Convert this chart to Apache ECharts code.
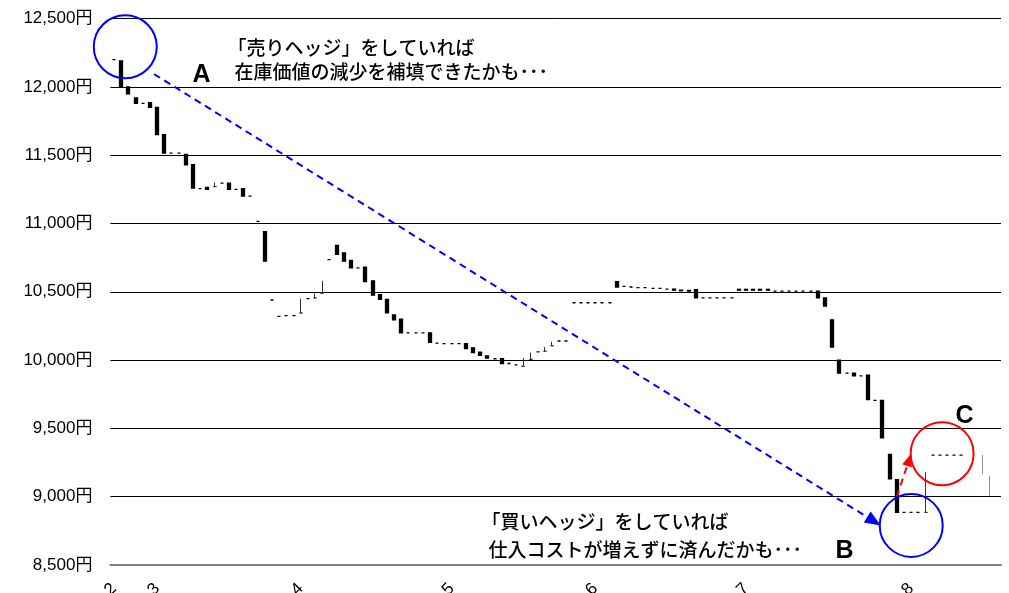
<!DOCTYPE html>
<html>
<head>
<meta charset="utf-8">
<script src="https://cdn.jsdelivr.net/npm/echarts@6/dist/echarts.min.js"></script>
<style>
html,body{margin:0;padding:0;background:#fff;}
#chart{width:1009px;height:593px;}
</style>
</head>
<body>
<div id="chart"></div>
<script>
// ---- data ----
const opens = [
12200,12190,12000,11920,11880,11885,11850,11650,11515,11515,
11505,11430,11255,11265,11270,11295,11295,11250,11255,11200,
11015,10940,10440,10320,10325,10325,10345,10450,10455,10490,
10735,10840,10785,10730,10675,10680,10580,10480,10445,10330,
10300,10200,10200,10200,10200,10125,10120,10120,10120,10120,
10090,10058,10030,10010,10010,9975,9965,9955,10005,10060,
10065,10105,10140,10140,10420,10420,10420,10420,10420,10420,
10575,10540,10535,10530,10530,10525,10525,10520,10520,10512,
10510,10515,10455,10455,10455,10455,10455,10518,10518,10518,
10518,10518,10505,10505,10505,10505,10505,10505,10505,10455,
10295,10000,9905,9905,9885,9890,9705,9705,9310,9125,
8885,8885,8885,8885,9305,9305,9305,9305,9305,null,
null,9305,9155,null
];
const closes = [
12200,12000,11950,11880,11880,11850,11650,11515,11515,11515,
11430,11260,11255,11250,11300,11295,11250,11250,11200,11200,
11015,10725,10440,10320,10325,10325,10450,10450,10490,10580,
10735,10775,10725,10675,10675,10575,10475,10445,10345,10295,
10200,10200,10200,10200,10130,10125,10120,10120,10120,10085,
10055,10035,10015,10010,9975,9975,9965,10015,10055,10060,
10095,10135,10140,10140,10420,10420,10420,10420,10420,10420,
10535,10540,10535,10530,10530,10525,10525,10520,10512,10508,
10505,10455,10455,10455,10455,10455,10455,10512,10512,10512,
10512,10512,10505,10505,10505,10505,10505,10505,10455,10395,
10095,9905,9905,9885,9885,9710,9705,9430,9130,8885,
8885,8885,8885,9180,9305,9305,9305,9305,9305,null,
null,9165,9005,null
];
// days drawn only as a thin line
const thinDays = [121, 122];
// month tick labels and the day index they sit on
const monthLabels = ['2','3','4','5','6','7','8'];
const monthStartIdx = [0, 6, 26, 47, 67, 88, 111];
// y axis
const yMin = 8500, yMax = 12500, yStep = 500;

// annotations in data space: [dayIndex, price]
const circles = [
  {pos:[1.57, 12294], color:'#0000ff'},
  {pos:[111.0, 8790], color:'#0000ff'},
  {pos:[115.3, 9315], color:'#ff0000'}
];
const arrows = [
  {from:[5.57, 12094], to:[105.82, 8820], color:'#0000ff', head:[13,16]},
  {from:[108.98, 9000], to:[110.71, 9271], color:'#ff0000', head:[10,13]}
];
const notes = [
  {pos:[15.73, 12288], text:'「売りヘッジ」をしていれば', big:false},
  {pos:[16.71, 12109], text:'在庫価値の減少を補填できたかも･･･', big:false},
  {pos:[10.86, 12083], text:'A', big:true},
  {pos:[51.1, 8815], text:'「買いヘッジ」をしていれば', big:false},
  {pos:[52.07, 8610], text:'仕入コストが増えずに済んだかも･･･', big:false},
  {pos:[100.39, 8603], text:'B', big:true},
  {pos:[117.1, 9591], text:'C', big:true}
];

// ---- build ----
const nDays = opens.length;
const categories = opens.map((_, i) => 'd' + i);
const monthAt = {};
monthStartIdx.forEach((d, k) => { monthAt[d] = monthLabels[k]; });

const mainData = [], thinData = [];
for (let i = 0; i < nDays; i++) {
  const o = opens[i], c = closes[i];
  if (o == null) { mainData.push('-'); thinData.push('-'); continue; }
  if (thinDays.indexOf(i) >= 0) {
    mainData.push('-');
    thinData.push([o, c, Math.min(o, c), Math.max(o, c)]);
    continue;
  }
  thinData.push('-');
  if (c > o) {
    mainData.push({value:[o, o, o, c], itemStyle:{borderColor:'#333', borderColorDoji:'#333', color:'#333', borderWidth:1}});
  } else {
    mainData.push([o, c, Math.min(o, c), Math.max(o, c)]);
  }
}

const jp = "'Noto Sans CJK JP', sans-serif";
const lat = "'Liberation Sans', 'Noto Sans CJK JP', sans-serif";

const chart = echarts.init(document.getElementById('chart'), null, {renderer:'canvas'});
chart.setOption({
  animation: false,
  backgroundColor: '#fff',
  textStyle: {fontFamily: lat},
  grid: {left: 110.4, right: 8, top: 18.6, bottom: 28, containLabel: false, outerBoundsMode: 'none'},
  xAxis: [{
    type: 'category',
    data: categories,
    boundaryGap: true,
    axisLine: {show: true, lineStyle: {color: '#7f7f7f', width: 2}},
    axisTick: {show: false},
    splitLine: {show: false},
    axisLabel: {
      interval: (idx) => monthAt[idx] !== undefined,
      formatter: (v, idx) => monthAt[idx] || '',
      rotate: 45,
      margin: 21,
      color: '#000',
      fontSize: 17,
      fontFamily: lat
    }
  }, {
    type: 'value',
    min: -0.5, max: nDays - 0.5,
    show: false
  }],
  yAxis: {
    type: 'value',
    min: yMin, max: yMax, interval: yStep,
    axisLine: {show: false},
    axisTick: {show: false},
    splitLine: {show: true, showMinLine: false, lineStyle: {color: '#000', width: 1}},
    axisLabel: {
      formatter: (v) => v.toLocaleString('en-US') + '円',
      color: '#000',
      fontSize: 17,
      margin: 18,
      fontFamily: lat
    }
  },
  series: [
    {
      type: 'candlestick',
      name: 'price',
      data: mainData,
      barWidth: 3.5,
      itemStyle: {
        color: '#000', color0: '#000',
        borderColor: '#000', borderColor0: '#000', borderColorDoji: '#000',
        borderWidth: 1.3
      },
      emphasis: {disabled: true}
    },
    {
      type: 'candlestick',
      name: 'thin',
      data: thinData,
      barWidth: 1,
      itemStyle: {
        color: '#444', color0: '#444',
        borderColor: '#444', borderColor0: '#444', borderColorDoji: '#444',
        borderWidth: 0.6
      },
      emphasis: {disabled: true}
    },
    {
      type: 'scatter',
      name: 'circles',
      xAxisIndex: 1, yAxisIndex: 0,
      silent: true,
      z: 5,
      symbol: 'circle',
      symbolSize: 63,
      itemStyle: {opacity: 1},
      data: circles.map(c => ({
        value: c.pos,
        itemStyle: {color: 'rgba(0,0,0,0)', borderColor: c.color, borderWidth: 2, opacity: 1}
      })),
      markLine: {
        silent: true,
        animation: false,
        label: {show: false},
        data: arrows.map(a => [
          {coord: a.from, symbol: 'none', lineStyle: {color: a.color, width: 2, type: [7, 5], opacity: 1}},
          {coord: a.to, symbol: 'triangle', symbolSize: a.head, itemStyle: {color: a.color, opacity: 1}}
        ])
      }
    },
    {
      type: 'scatter',
      name: 'notes',
      xAxisIndex: 1, yAxisIndex: 0,
      silent: true,
      z: 6,
      symbolSize: 1,
      itemStyle: {color: 'rgba(0,0,0,0)', opacity: 1},
      data: notes.map(n => ({
        value: n.pos,
        label: {
          show: true,
          position: 'right',
          distance: 0,
          formatter: n.text,
          color: '#000',
          fontSize: n.big ? 25 : 19,
          fontWeight: n.big ? 'bold' : 500,
          fontFamily: n.big ? lat : jp
        }
      }))
    }
  ]
});
</script>
</body>
</html>
